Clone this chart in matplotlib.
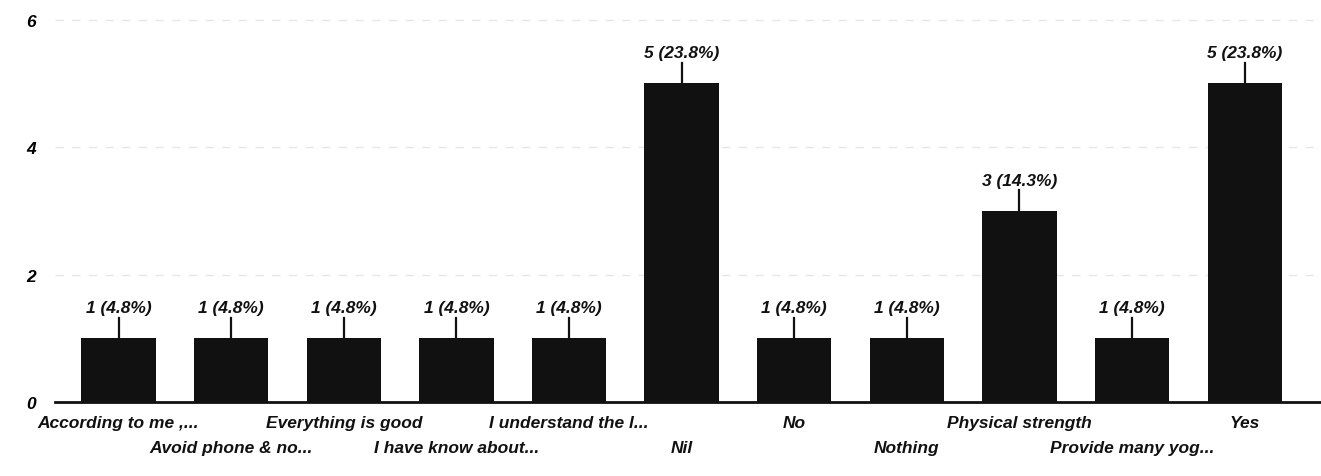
import matplotlib
matplotlib.use("Agg")
import matplotlib.pyplot as plt

categories = ["According to me ,...", "Avoid phone & no...", "Everything is good",
              "I have know about...", "I understand the l...", "Nil", "No", "Nothing",
              "Physical strength", "Provide many yog...", "Yes"]
counts = [1, 1, 1, 1, 1, 5, 1, 1, 3, 1, 5]
percents = [4.8, 4.8, 4.8, 4.8, 4.8, 23.8, 4.8, 4.8, 14.3, 4.8, 23.8]
yticks = [0, 2, 4, 6]

plt.rcParams['font.family'] = ['Liberation Sans', 'DejaVu Sans']

fig = plt.figure(figsize=(13.21, 4.77), dpi=100)
ax = fig.add_axes([0.042, 0.155, 1.0, 0.815])

x = list(range(len(categories)))
ax.bar(x, counts, width=0.66, color='#111111', zorder=3)
ax.set_xlim(-0.56, len(categories) - 0.33 + 0.5)
ax.set_ylim(0, 6.1)

for xi, c, p in zip(x, counts, percents):
    ax.plot([xi, xi], [c, c + 0.32], color='#111111', lw=1.6, zorder=4)
    ax.text(xi, c + 0.36, f"{c} ({p}%)", ha='center', va='bottom', fontsize=12.5,
            fontstyle='italic', fontweight='bold', color='#111111')

ax.set_yticks(yticks)
ax.set_yticklabels([str(t) for t in yticks], fontsize=12.5, fontstyle='italic', fontweight='bold')
ax.tick_params(axis='y', length=0, pad=14)
ax.yaxis.grid(True, color='#e6e6e6', linestyle=(0, (6, 6)), lw=1, zorder=0)
ax.set_xticks(x)
ax.set_xticklabels([])
ax.tick_params(axis='x', length=0)
for xi, lab in zip(x, categories):
    off = 0.035 if xi % 2 == 0 else 0.10
    ax.text(xi, -off * 6.1 / 0.815 * 0.8, lab, ha='center', va='top', fontsize=12.5,
            fontstyle='italic', fontweight='bold', color='#111111', clip_on=False)

for s in ['top', 'right', 'left']:
    ax.spines[s].set_visible(False)
ax.spines['bottom'].set_color('#111111')
ax.spines['bottom'].set_linewidth(2)

fig.savefig("out.png", dpi=100)
